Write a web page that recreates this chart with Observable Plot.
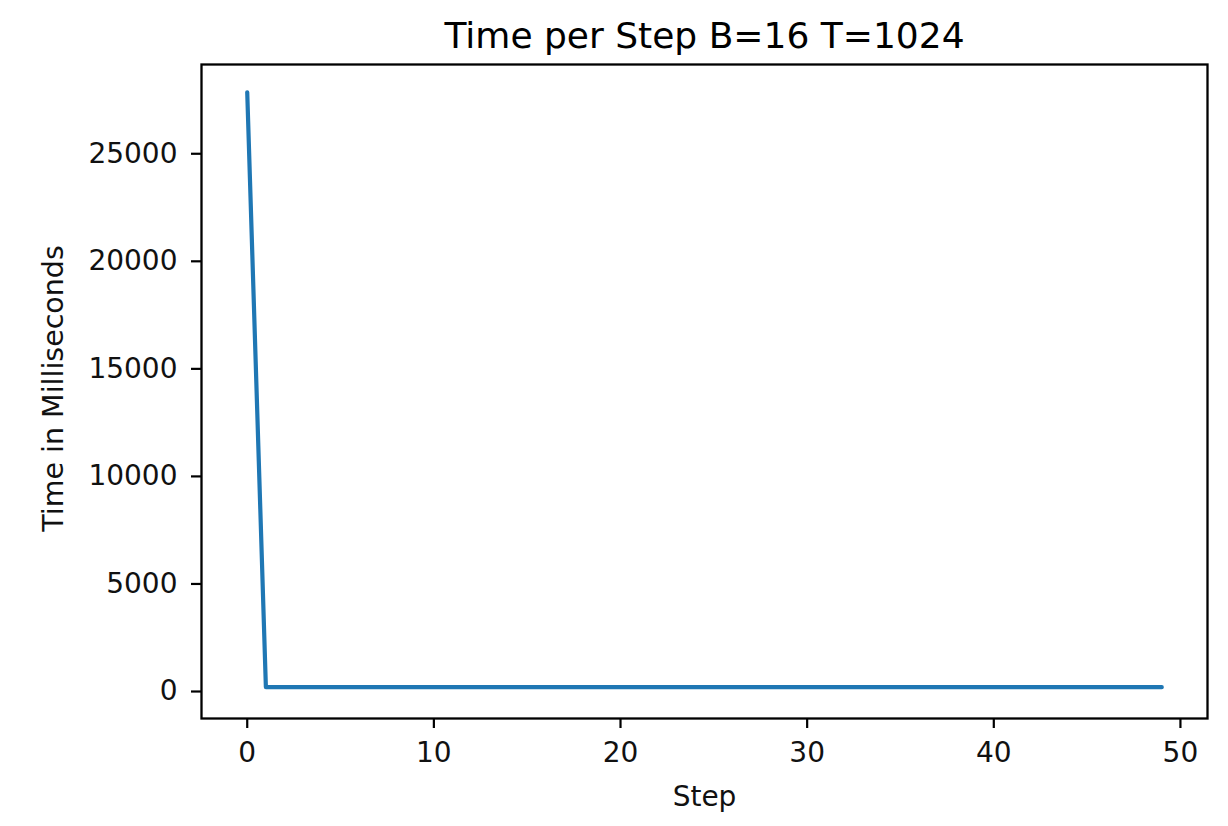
<!DOCTYPE html>
<html>
<head>
<meta charset="utf-8">
<script src="https://cdn.jsdelivr.net/npm/d3@7"></script>
<script src="https://cdn.jsdelivr.net/npm/@observablehq/plot@0.6"></script>
<style>
  html, body { margin: 0; padding: 0; background: #fff; }
  #chart svg { display: block; }
</style>
</head>
<body>
<div id="chart"></div>
<script>
const title = "Time per Step B=16 T=1024";
const xLabel = "Step";
const yLabel = "Time in Milliseconds";
const steps = [0,1,2,3,4,5,6,7,8,9,10,11,12,13,14,15,16,17,18,19,20,21,22,23,24,25,26,27,28,29,30,31,32,33,34,35,36,37,38,39,40,41,42,43,44,45,46,47,48,49];
const timeMs = [27860,200,200,200,200,200,200,200,200,200,200,200,200,200,200,200,200,200,200,200,200,200,200,200,200,200,200,200,200,200,200,200,200,200,200,200,200,200,200,200,200,200,200,200,200,200,200,200,200,200];
const xTicks = [0, 10, 20, 30, 40, 50];
const yTicks = [0, 5000, 10000, 15000, 20000, 25000];

const data = steps.map((s, i) => ({step: s, ms: timeMs[i]}));

const chart = Plot.plot({
  width: 1228,
  height: 826,
  marginLeft: 201,
  marginRight: 21,
  marginTop: 64,
  marginBottom: 108,
  style: {fontFamily: "DejaVu Sans", fontSize: "28px", color: "#000", background: "#fff"},
  x: {domain: [-2.45, 51.45]},
  y: {domain: [-1255, 29150]},
  marks: [
    Plot.axisX({ticks: xTicks, tickSize: 10, tickPadding: 14, tickFormat: d3.format("d"), label: null, strokeWidth: 2.2, fill: "#111"}),
    Plot.axisY({ticks: yTicks, tickSize: 10, tickPadding: 14, tickFormat: d3.format("d"), label: null, strokeWidth: 2.2, fill: "#111"}),
    Plot.line(data, {x: "step", y: "ms", stroke: "#1f77b4", strokeWidth: 4.2}),
    Plot.frame({stroke: "#000", strokeWidth: 2.3}),
    Plot.text([title], {frameAnchor: "top", lineAnchor: "middle", textAnchor: "middle", dy: -28.5, fontSize: 36, fill: "#000"}),
    Plot.text([xLabel], {frameAnchor: "bottom", lineAnchor: "middle", textAnchor: "middle", dy: 79, fontSize: 28, fill: "#111"}),
    Plot.text([yLabel], {frameAnchor: "left", lineAnchor: "middle", textAnchor: "middle", dx: -148, dy: -3, rotate: -90, fontSize: 28.5, fill: "#111"})
  ]
});
document.getElementById("chart").appendChild(chart);
</script>
</body>
</html>
